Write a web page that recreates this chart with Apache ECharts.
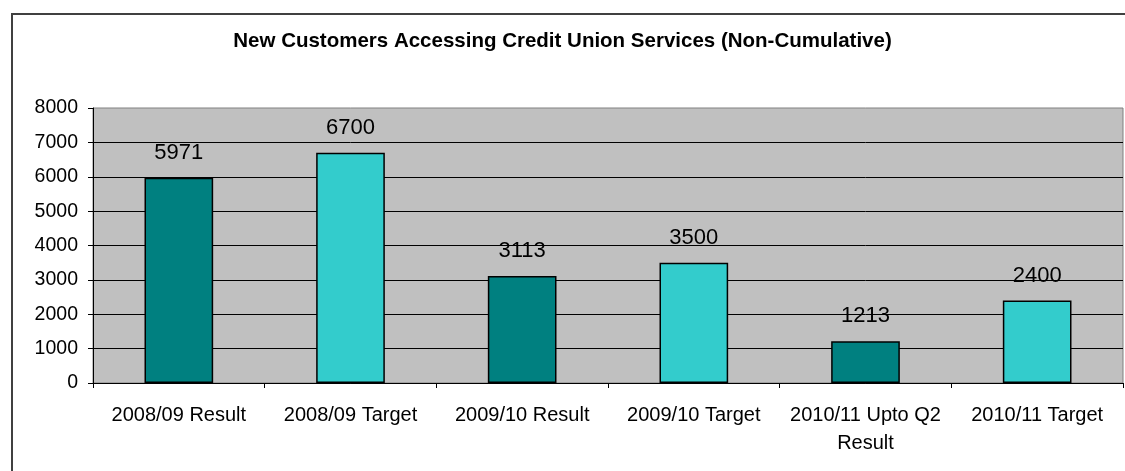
<!DOCTYPE html>
<html>
<head>
<meta charset="utf-8">
<script src="https://cdn.jsdelivr.net/npm/echarts@6/dist/echarts.min.js"></script>
<style>html,body{margin:0;padding:0;background:#fff}#c{width:1125px;height:471px}</style>
</head>
<body>
<div id="c"></div>
<script>
const titleText = 'New Customers Accessing Credit Union Services (Non-Cumulative)';
const categories = ['2008/09 Result', '2008/09 Target', '2009/10 Result', '2009/10 Target', '2010/11 Upto Q2\nResult', '2010/11 Target'];
const values = [5971, 6700, 3113, 3500, 1213, 2400];
const barColors = ['#008080', '#33CCCC', '#008080', '#33CCCC', '#008080', '#33CCCC'];
const yTicks = { min: 0, max: 8000, interval: 1000 };

const FONT = '"Liberation Sans", Arial, sans-serif';
const chart = echarts.init(document.getElementById('c'), null, { renderer: 'canvas' });
chart.setOption({
  animation: false,
  backgroundColor: '#ffffff',
  title: {
    text: titleText,
    left: 'center',
    top: 26,
    textStyle: { fontFamily: FONT, fontSize: 20.5, fontWeight: 'bold', color: '#000' }
  },
  graphic: [{
    type: 'rect',
    shape: { x: 12, y: 14, width: 1125, height: 480 },
    style: { fill: 'none', stroke: '#404040', lineWidth: 2 },
    silent: true, z: 100
  }],
  grid: {
    left: 93, right: 2, top: 108, bottom: 88,
    show: true, backgroundColor: '#C0C0C0', borderColor: '#808080', borderWidth: 1
  },
  xAxis: {
    type: 'category',
    data: categories,
    boundaryGap: true,
    axisLine: { lineStyle: { color: '#000', width: 1 } },
    axisTick: { show: true, length: 5, lineStyle: { color: '#000' } },
    axisLabel: { fontFamily: FONT, fontSize: 20, color: '#000', margin: 18, lineHeight: 28, interval: 0 }
  },
  yAxis: {
    type: 'value',
    min: yTicks.min, max: yTicks.max, interval: yTicks.interval,
    axisLine: { show: true, lineStyle: { color: '#000', width: 1 } },
    axisTick: { show: true, length: 5, lineStyle: { color: '#000' } },
    axisLabel: { fontFamily: FONT, fontSize: 19.5, color: '#000', margin: 15, formatter: v => String(v) },
    splitLine: { show: true, showMaxLine: false, lineStyle: { color: '#000', width: 1 } }
  },
  series: [{
    type: 'bar',
    data: values.map((v, i) => ({ value: v, itemStyle: { color: barColors[i] } })),
    barWidth: '40%',
    itemStyle: { borderColor: '#000', borderWidth: 1.5 },
    label: { show: true, position: 'top', distance: 14, fontFamily: FONT, fontSize: 22, color: '#000' }
  }]
});
</script>
</body>
</html>
